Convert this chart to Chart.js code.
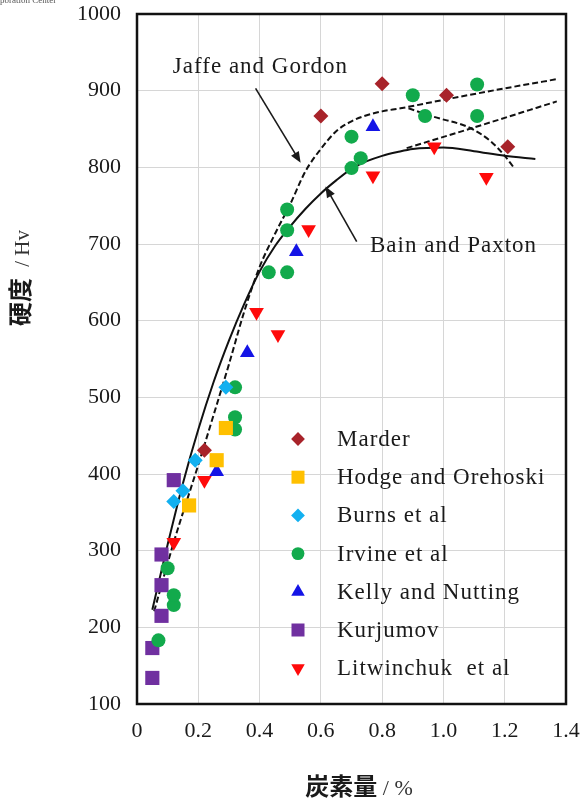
<!DOCTYPE html>
<html>
<head>
<meta charset="utf-8">
<style>
  html, body { margin: 0; padding: 0; background: #ffffff; }
  #wrap { position: relative; width: 585px; height: 802px; }
  canvas { display: block; }
</style>
<script src="https://cdn.jsdelivr.net/npm/chart.js@4/dist/chart.umd.min.js"></script>
</head>
<body>
<div id="wrap"><canvas id="c" width="585" height="802"></canvas></div>
<script>
// Vickers hardness of martensite versus carbon content

const xTickLabels = ['0', '0.2', '0.4', '0.6', '0.8', '1.0', '1.2', '1.4'];

// measured data sets
const marderX = [0.22, 0.60, 0.80, 1.01, 1.21];
const marderY = [431, 867, 909, 894, 827];

const hodgeX = [0.17, 0.26, 0.29];
const hodgeY = [359, 418, 460];

const burnsX = [0.12, 0.15, 0.19, 0.29];
const burnsY = [364, 378, 418, 513];

const irvineX = [0.07, 0.12, 0.12, 0.10, 0.32, 0.32, 0.32, 0.43, 0.49, 0.49, 0.49, 0.70, 0.73, 0.70, 0.90, 0.94, 1.11, 1.11];
const irvineY = [183, 229, 242, 277, 458, 474, 513, 663, 663, 718, 745, 799, 812, 840, 894, 867, 867, 908];

const kellyX = [0.26, 0.36, 0.52, 0.77];
const kellyY = [403, 558, 690, 853];

const kurjumovX = [0.05, 0.05, 0.08, 0.08, 0.08, 0.12];
const kurjumovY = [134, 173, 215, 255, 295, 392];

const litwinchukX = [0.12, 0.22, 0.39, 0.46, 0.56, 0.77, 0.97, 1.14];
const litwinchukY = [311, 392, 611, 582, 719, 789, 827, 787];

// Bain and Paxton curve (solid)
const bainX = [0.05, 0.10, 0.15, 0.20, 0.25, 0.30, 0.35, 0.40, 0.45, 0.50, 0.55, 0.60, 0.65, 0.70, 0.75, 0.80, 0.85, 0.90, 1.00, 1.10, 1.20, 1.30];
const bainY = [223, 308, 388, 458, 520, 574, 622, 664, 697, 723, 746, 766, 783, 798, 808, 815, 820, 824, 826, 821, 815, 811];

// Jaffe and Gordon curves (dashed): main branch and two high-carbon branches
const jaffeX = [0.056, 0.12, 0.20, 0.25, 0.30, 0.35, 0.40, 0.45, 0.50, 0.55, 0.60, 0.65, 0.70, 0.75, 0.80, 0.86, 1.00, 1.20, 1.37];
const jaffeY = [221, 311, 412, 477, 543, 612, 670, 713, 752, 795, 824, 847, 860, 868, 873, 877, 888, 903, 915];
const jaffeFallX = [0.886, 0.968, 1.089, 1.154, 1.198, 1.231];
const jaffeFallY = [877, 866, 851, 834, 816, 799];
const jaffeLowX = [0.88, 1.10, 1.37];
const jaffeLowY = [825, 852, 886];

const xyPairs = (xs, ys) => xs.map((x, i) => ({ x: x, y: ys[i] }));

const seriesNames = ['Marder', 'Hodge and Orehoski', 'Burns et al', 'Irvine et al', 'Kelly and Nutting', 'Kurjumov', 'Litwinchuk  et al'];

function markerSet(label, xs, ys, color, style, radius, rotation) {
  return {
    type: 'scatter', label: label, data: xyPairs(xs, ys),
    pointStyle: style, pointRadius: radius, pointHoverRadius: radius,
    pointRotation: rotation || 0,
    backgroundColor: color, borderColor: color, borderWidth: 0,
    showLine: false, inLegend: true
  };
}
function curveSet(label, xs, ys, dashed) {
  return {
    type: 'line', label: label, data: xyPairs(xs, ys),
    borderColor: '#111111', borderWidth: 2, borderDash: dashed ? [6, 3] : [],
    pointRadius: 0, fill: false, cubicInterpolationMode: 'monotone', inLegend: false
  };
}

const datasets = [
  markerSet(seriesNames[0], marderX, marderY, '#A8232A', 'rectRot', 7.5),
  markerSet(seriesNames[1], hodgeX, hodgeY, '#FFC000', 'rect', 10),
  markerSet(seriesNames[2], burnsX, burnsY, '#12B0F0', 'rectRot', 7.5),
  markerSet(seriesNames[3], irvineX, irvineY, '#12AA4C', 'circle', 7),
  markerSet(seriesNames[4], kellyX, kellyY, '#1414E6', 'triangle', 8.5),
  markerSet(seriesNames[5], kurjumovX, kurjumovY, '#7030A0', 'rect', 10),
  markerSet(seriesNames[6], litwinchukX, litwinchukY, '#FF0A0A', 'triangle', 8.5, 180),
  curveSet('Bain and Paxton', bainX, bainY, false),
  curveSet('Jaffe and Gordon', jaffeX, jaffeY, true),
  curveSet('Jaffe and Gordon (fall)', jaffeFallX, jaffeFallY, true),
  curveSet('Jaffe and Gordon (low)', jaffeLowX, jaffeLowY, true)
];

const SERIF = '"Liberation Serif", "Times New Roman", serif';
const CJK = '"Noto Sans CJK JP", "Noto Sans CJK SC", sans-serif';

function drawMarker(ctx, ds, x, y) {
  const opts = { pointStyle: ds.pointStyle, radius: ds.pointRadius, rotation: ds.pointRotation || 0, borderWidth: 0 };
  ctx.save();
  ctx.fillStyle = ds.backgroundColor;
  ctx.strokeStyle = ds.backgroundColor;
  ctx.lineWidth = 0;
  if (Chart.helpers && Chart.helpers.drawPoint) {
    Chart.helpers.drawPoint(ctx, opts, x, y);
  } else {
    ctx.beginPath(); ctx.arc(x, y, ds.pointRadius, 0, Math.PI * 2); ctx.fill();
  }
  ctx.restore();
}

function arrow(ctx, x1, y1, x2, y2) {
  const ang = Math.atan2(y2 - y1, x2 - x1);
  const len = 11, half = 4.5;
  ctx.beginPath();
  ctx.moveTo(x1, y1);
  ctx.lineTo(x2 - Math.cos(ang) * len * 0.8, y2 - Math.sin(ang) * len * 0.8);
  ctx.stroke();
  ctx.beginPath();
  ctx.moveTo(x2, y2);
  ctx.lineTo(x2 - Math.cos(ang) * len + Math.sin(ang) * half, y2 - Math.sin(ang) * len - Math.cos(ang) * half);
  ctx.lineTo(x2 - Math.cos(ang) * len - Math.sin(ang) * half, y2 - Math.sin(ang) * len + Math.cos(ang) * half);
  ctx.closePath();
  ctx.fill();
}

// frame around the plotting area
const framePlugin = {
  id: 'frame',
  beforeDatasetsDraw(chart) {
    const { ctx, chartArea: a } = chart;
    ctx.save();
    ctx.strokeStyle = '#111111';
    ctx.lineWidth = 2.5;
    ctx.strokeRect(a.left, a.top, a.right - a.left, a.bottom - a.top);
    ctx.restore();
  }
};

// curve labels with arrows, in data coordinates
const curveNotes = [
  { text: 'Jaffe and Gordon', tx: 0.403, ty: 931, fromX: 0.387, fromY: 903, toX: 0.534, toY: 806 },
  { text: 'Bain and Paxton', tx: 1.033, ty: 697, fromX: 0.717, fromY: 703, toX: 0.615, toY: 775 }
];

const notesPlugin = {
  id: 'notes',
  afterDatasetsDraw(chart) {
    const { ctx } = chart;
    const xs = chart.scales.x, ys = chart.scales.y;
    ctx.save();
    ctx.fillStyle = '#1a1a1a';
    ctx.strokeStyle = '#1a1a1a';
    ctx.lineWidth = 1.6;
    ctx.font = '23px ' + SERIF;
    try { ctx.letterSpacing = '1px'; } catch (e) {}
    ctx.textAlign = 'center';
    ctx.textBaseline = 'middle';
    curveNotes.forEach(n => {
      ctx.fillText(n.text, xs.getPixelForValue(n.tx), ys.getPixelForValue(n.ty));
      arrow(ctx, xs.getPixelForValue(n.fromX), ys.getPixelForValue(n.fromY),
                 xs.getPixelForValue(n.toX), ys.getPixelForValue(n.toY));
    });
    ctx.restore();
  }
};

// legend inside the plot area
const legendPlugin = {
  id: 'innerLegend',
  afterDatasetsDraw(chart) {
    const { ctx, chartArea: a } = chart;
    const items = chart.data.datasets.filter(d => d.inLegend);
    const markerX = a.left + 161, textX = a.left + 200, top = a.top + 425, step = 38.2;
    ctx.save();
    ctx.font = '23px ' + SERIF;
    ctx.fillStyle = '#1a1a1a';
    ctx.textAlign = 'left';
    ctx.textBaseline = 'middle';
    try { ctx.letterSpacing = '1px'; } catch (e) {}
    items.forEach((d, i) => {
      const y = top + i * step;
      const r = d.pointRadius;
      drawMarker(ctx, Object.assign({}, d, { pointRadius: r * 0.92 }), markerX, y);
      ctx.fillText(d.label, textX, y + 1);
    });
    ctx.restore();
  }
};

// axis titles and header line
const titlesPlugin = {
  id: 'titles',
  afterDraw(chart) {
    const { ctx } = chart;
    ctx.save();
    ctx.textBaseline = 'alphabetic';

    // x title
    const xBold = '炭素量', xRest = ' / %';
    ctx.font = 'bold 24px ' + CJK;
    const w1 = ctx.measureText(xBold).width;
    ctx.font = '22px ' + SERIF;
    const w2 = ctx.measureText(xRest).width;
    let sx = 359 - (w1 + w2) / 2;
    ctx.fillStyle = '#1a1a1a';
    ctx.font = 'bold 24px ' + CJK;
    ctx.fillText(xBold, sx, 795);
    ctx.fillStyle = '#333333';
    ctx.font = '22px ' + SERIF;
    ctx.fillText(xRest, sx + w1, 795);

    // y title
    const yBold = '硬度', yRest = ' / Hv';
    ctx.translate(29, 281);
    ctx.rotate(-Math.PI / 2);
    ctx.font = 'bold 24px ' + CJK;
    const v1 = ctx.measureText(yBold).width;
    ctx.font = '21px ' + SERIF;
    const v2 = ctx.measureText(yRest).width;
    const sy = -(v1 + v2) / 2;
    ctx.fillStyle = '#1a1a1a';
    ctx.font = 'bold 24px ' + CJK;
    ctx.fillText(yBold, sy, 0);
    ctx.fillStyle = '#333333';
    ctx.font = '21px ' + SERIF;
    ctx.fillText(yRest, sy + v1 + 6, 0);
    ctx.restore();

    ctx.save();
    ctx.fillStyle = '#555555';
    ctx.font = '9px ' + SERIF;
    ctx.textBaseline = 'alphabetic';
    ctx.fillText('poration Center', 0, 3);
    ctx.restore();
  }
};

new Chart(document.getElementById('c'), {
  type: 'scatter',
  data: { datasets: datasets },
  options: {
    responsive: false,
    animation: false,
    devicePixelRatio: 1,
    layout: { padding: { top: 14, right: 19, left: 0, bottom: 0 } },
    plugins: { legend: { display: false }, tooltip: { enabled: false } },
    scales: {
      x: {
        type: 'linear', min: 0, max: 1.4,
        afterFit(scale) { scale.height = 98; scale.paddingLeft = 0; scale.paddingRight = 0; },
        afterBuildTicks(scale) { scale.ticks = xTickLabels.map(t => ({ value: parseFloat(t) })); },
        ticks: {
          callback: (v, i) => xTickLabels[i],
          color: '#1a1a1a', padding: 14, maxRotation: 0,
          font: { family: SERIF, size: 22 }
        },
        grid: { color: '#d6d6d6', lineWidth: 1, drawTicks: false },
        border: { display: false }
      },
      y: {
        type: 'linear', min: 100, max: 1000,
        afterFit(scale) { scale.width = 137; scale.paddingTop = 0; scale.paddingBottom = 0; },
        ticks: {
          stepSize: 100, color: '#1a1a1a', padding: 16,
          callback: v => String(v),
          font: { family: SERIF, size: 22 }
        },
        grid: { color: '#d6d6d6', lineWidth: 1, drawTicks: false },
        border: { display: false }
      }
    }
  },
  plugins: [framePlugin, notesPlugin, legendPlugin, titlesPlugin]
});
</script>
</body>
</html>
